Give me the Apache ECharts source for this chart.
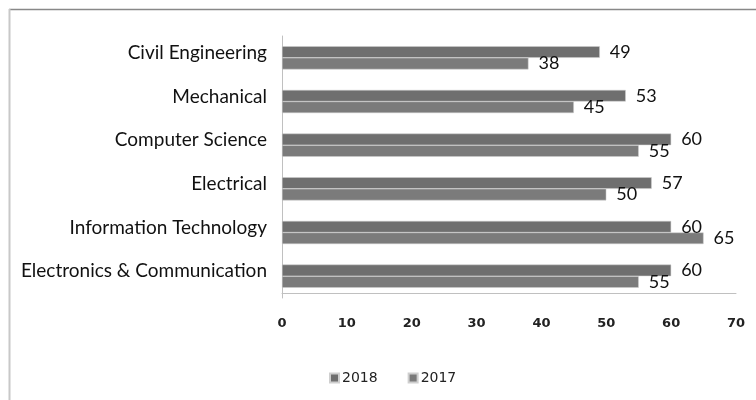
<!DOCTYPE html>
<html>
<head>
<meta charset="utf-8">
<script src="https://cdn.jsdelivr.net/npm/echarts@6/dist/echarts.min.js"></script>
<style>html,body{margin:0;padding:0;background:#fff}#c{width:756px;height:400px}</style>
</head>
<body>
<div id="c"></div>
<script>
const categories = ['Civil Engineering', 'Mechanical', 'Computer Science', 'Electrical', 'Information Technology', 'Electronics & Communication'];
const values2018 = [49, 53, 60, 57, 60, 60];
const values2017 = [38, 45, 55, 50, 65, 55];
const xTicks = [0, 10, 20, 30, 40, 50, 60, 70];

const chart = echarts.init(document.getElementById('c'));
const labelFont = {show: true, position: 'right', distance: 10, color: '#111', fontFamily: 'Lato, Liberation Sans, sans-serif', fontSize: 18};
chart.setOption({
  animation: false,
  backgroundColor: '#fff',
  graphic: [
    {type: 'line', shape: {x1: 9, y1: 9.5, x2: 756, y2: 9.5}, style: {stroke: '#888', lineWidth: 1.5}},
    {type: 'line', shape: {x1: 9.5, y1: 9, x2: 9.5, y2: 400}, style: {stroke: '#c8c8c8', lineWidth: 2}}
  ],
  grid: {left: 282, right: 20, top: 36, bottom: 102, containLabel: false},
  legend: {
    data: ['2018', '2017'], bottom: 10, left: 324, itemWidth: 9, itemHeight: 9, itemGap: 30,
    icon: 'rect',
    textStyle: {fontFamily: 'DejaVu Sans', fontSize: 14, color: '#222', padding: [0, 0, 0, -2]}
  },
  xAxis: {
    type: 'value', min: xTicks[0], max: xTicks[xTicks.length - 1], interval: 10,
    offset: -5,
    axisLine: {show: true, lineStyle: {color: '#c0c0c0'}},
    axisTick: {show: false},
    splitLine: {show: false},
    axisLabel: {margin: 24, color: '#222', fontFamily: 'DejaVu Sans', fontWeight: 'bold', fontSize: 13}
  },
  yAxis: {
    type: 'category', inverse: true, data: categories,
    axisLine: {show: true, lineStyle: {color: '#c0c0c0'}},
    axisTick: {show: false},
    axisLabel: {margin: 15, color: '#111', fontFamily: 'Lato, Liberation Sans, sans-serif', fontSize: 19,
                verticalAlign: 'bottom', lineHeight: 10}
  },
  series: [
    {name: '2018', type: 'bar', data: values2018, barGap: '0%', barCategoryGap: '47%',
     itemStyle: {color: '#6f6f6f', borderColor: '#cfcfcf', borderWidth: 0.5}, label: labelFont},
    {name: '2017', type: 'bar', data: values2017, barGap: '0%', barCategoryGap: '47%',
     itemStyle: {color: '#7b7b7b', borderColor: '#cfcfcf', borderWidth: 0.5}, label: labelFont}
  ]
});
</script>
</body>
</html>
